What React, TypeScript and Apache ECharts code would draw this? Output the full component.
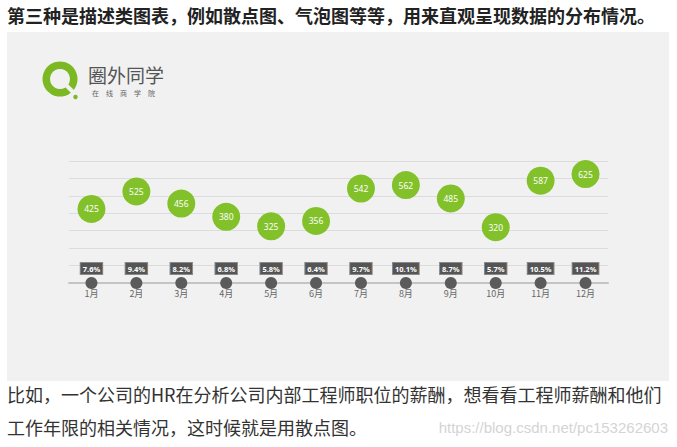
import React, { useEffect, useRef } from "react";
import * as echarts from "echarts";

const months = ["1月", "2月", "3月", "4月", "5月", "6月", "7月", "8月", "9月", "10月", "11月", "12月"];
const salaries = [425, 525, 456, 380, 325, 356, 542, 562, 485, 320, 587, 625];
const rates = [7.6, 9.4, 8.2, 6.8, 5.8, 6.4, 9.7, 10.1, 8.7, 5.7, 10.5, 11.2];
const baseline = [0, 0, 0, 0, 0, 0, 0, 0, 0, 0, 0, 0];
const logoTitle = "圈外同学";
const logoSubtitle = ["在", "线", "商", "学", "院"];
const heading = "第三种是描述类图表，例如散点图、气泡图等等，用来直观呈现数据的分布情况。";
const paragraph = [
  "比如，一个公司的HR在分析公司内部工程师职位的薪酬，想看看工程师薪酬和他们",
  "工作年限的相关情况，这时候就是用散点图。",
];
const watermark = "https://blog.csdn.net/pc153262603";

const CJK = '"Noto Sans CJK SC", "Noto Sans", sans-serif';
const PANEL_BG = "#f1f1f1";
const LOGO_GREEN = "#7cb823";

function Chart() {
  const ref = useRef<HTMLDivElement>(null);
  useEffect(() => {
    if (!ref.current) return;
    const chart = echarts.init(ref.current, undefined, { renderer: "svg" });
    chart.setOption({
      animation: false,
      backgroundColor: PANEL_BG,
      textStyle: { fontFamily: CJK },
      grid: { left: 62, top: 129, width: 539, height: 122 },
      xAxis: {
        type: "category",
        data: months,
        axisTick: { show: false },
        axisLine: { lineStyle: { color: "#c4c4c4", width: 2 } },
        axisLabel: { color: "#666", fontSize: 9, margin: 6, fontFamily: CJK },
      },
      yAxis: {
        type: "value",
        min: 0,
        max: 700,
        interval: 100,
        axisLabel: { show: false },
        axisLine: { show: false },
        axisTick: { show: false },
        splitLine: { lineStyle: { color: "#dcdcdc", width: 1 } },
      },
      series: [
        {
          type: "scatter",
          data: salaries,
          symbolSize: 28,
          itemStyle: { color: "#82c12a", opacity: 1 },
          label: {
            show: true,
            position: "inside",
            color: "#fff",
            fontSize: 8.5,
            fontFamily: '"Noto Sans", sans-serif',
          },
          z: 3,
        },
        {
          type: "scatter",
          data: baseline,
          symbolSize: 12,
          itemStyle: { color: "#5b5b5b", opacity: 1 },
          label: {
            show: true,
            position: "top",
            distance: 3,
            formatter: (p: any) => rates[p.dataIndex].toFixed(1) + "%",
            color: "#fff",
            fontSize: 7.5,
            fontWeight: "bold",
            fontFamily: '"Noto Sans", sans-serif',
            backgroundColor: "#555",
            borderColor: "#8a8a8a",
            borderWidth: 1,
            padding: [2, 2, 1, 2],
          },
          z: 4,
        },
      ],
      graphic: [
        { type: "circle", shape: { cx: 53, cy: 47, r: 17.5 }, style: { fill: LOGO_GREEN } },
        { type: "circle", shape: { cx: 53, cy: 47, r: 10 }, style: { fill: PANEL_BG } },
        { type: "line", shape: { x1: 58, y1: 52, x2: 67, y2: 61 }, style: { stroke: PANEL_BG, lineWidth: 4 } },
        { type: "circle", shape: { cx: 68.5, cy: 65, r: 2.2 }, style: { fill: LOGO_GREEN } },
        {
          type: "text",
          x: 81,
          y: 42,
          style: { text: logoTitle, fontSize: 19, fill: "#555", verticalAlign: "middle", fontFamily: CJK },
        },
        ...logoSubtitle.map((ch, i) => ({
          type: "text",
          x: 85 + i * 14,
          y: 60.5,
          style: { text: ch, fontSize: 7, fill: "#666", verticalAlign: "middle", fontFamily: CJK },
        })),
      ],
    });
    return () => chart.dispose();
  }, []);
  return <div ref={ref} style={{ position: "absolute", left: 7, top: 32, width: 662, height: 349 }} />;
}

export default function App() {
  return (
    <div style={{ position: "absolute", left: 0, top: 0, width: 677, height: 447, background: "#fff", overflow: "hidden", fontFamily: CJK }}>
      <div style={{ position: "absolute", left: 7, top: 4, fontSize: 18, lineHeight: "22px", fontWeight: "bold", color: "#222", whiteSpace: "nowrap" }}>
        {heading}
      </div>
      <Chart />
      <div style={{ position: "absolute", left: 7, top: 383, fontSize: 18, lineHeight: "22px", color: "#333", whiteSpace: "nowrap" }}>
        {paragraph[0]}
      </div>
      <div style={{ position: "absolute", left: 7, top: 416, fontSize: 18, lineHeight: "22px", color: "#333", whiteSpace: "nowrap" }}>
        {paragraph[1]}
      </div>
      <div style={{ position: "absolute", right: 9, top: 418, fontSize: 15, lineHeight: "20px", color: "#d4d4d4", fontFamily: '"Liberation Sans Narrow", "Liberation Sans", sans-serif', whiteSpace: "nowrap" }}>
        {watermark}
      </div>
    </div>
  );
}
